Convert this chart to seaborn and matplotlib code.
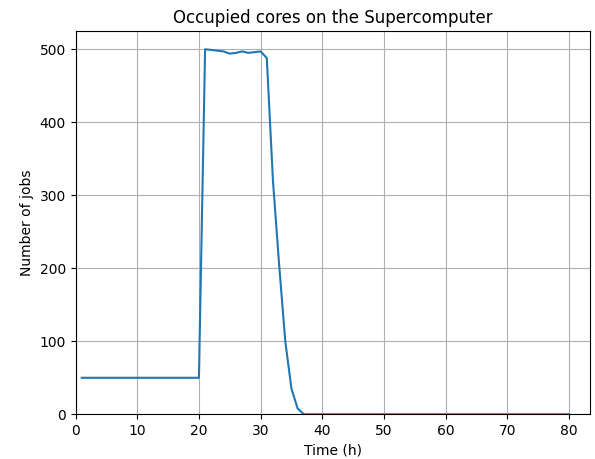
import matplotlib
matplotlib.use("Agg")
import matplotlib.pyplot as plt
import seaborn as sns
import pandas as pd

hours = list(range(1, 81))
occupied = ([50] * 20 +
            [500, 499, 498, 497, 494, 495, 497, 495, 496, 497,
             488, 320, 205, 100, 35, 8] +
            [0] * 44)

df = pd.DataFrame({"Time (h)": hours, "Number of jobs": occupied})

fig, ax = plt.subplots(figsize=(5.95, 4.59), dpi=100)
fig.subplots_adjust(left=0.127, right=0.9916, top=0.9325, bottom=0.0974)
sns.lineplot(data=df, x="Time (h)", y="Number of jobs", ax=ax, color="#1f77b4", linewidth=1.5)
ax.set_title("Occupied cores on the Supercomputer")
ax.set_xlim(0, 83.4)
ax.set_ylim(0, 525)
ax.grid(True)
fig.savefig("out.png", dpi=100)
